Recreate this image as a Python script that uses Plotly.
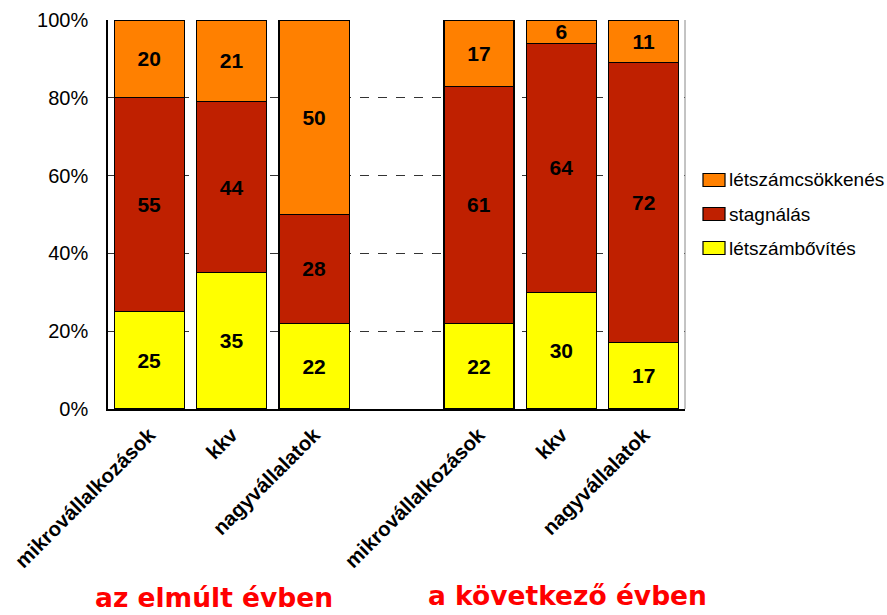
import plotly.graph_objects as go

# Company size groups, for the past year and for the next year
groups = ["mikrovállalkozások", "kkv", "nagyvállalatok"]
periods = ["az elmúlt évben", "a következő évben"]

# Share of firms (%) per group: past year, then next year
bovites = [25, 35, 22, 22, 30, 17]        # létszámbővítés
stagnalas = [55, 44, 28, 61, 64, 72]      # stagnálás
csokkenes = [20, 21, 50, 17, 6, 11]       # létszámcsökkenés

y_ticks = [0, 20, 40, 60, 80, 100]
y_tick_labels = ["0%", "20%", "40%", "60%", "80%", "100%"]

# Slot index for each bar: one empty slot separates the two periods
slots = [i if i < len(groups) else i + 1 for i in range(2 * len(groups))]
labels = groups * 2

SANS = "Liberation Sans, Arial, sans-serif"
WIDE = "DejaVu Sans, Verdana, sans-serif"

series = [
    ("létszámbővítés", bovites, "#FFFF00"),
    ("stagnálás", stagnalas, "#BF2000"),
    ("létszámcsökkenés", csokkenes, "#FF8000"),
]

fig = go.Figure()
for name, vals, color in series:
    fig.add_trace(go.Bar(
        x=slots, y=vals, name=name,
        marker=dict(color=color, line=dict(color="black", width=1.2)),
        width=0.85,
        text=[str(v) for v in vals],
        textposition="inside", insidetextanchor="middle", textangle=0,
        textfont=dict(family=SANS, size=21, color="black", weight="bold"),
        hoverinfo="skip",
        showlegend=False,
    ))

# Plot area in pixels, used to place the legend and captions
L, R, T, B = 108, 202, 20, 206
W, H = 887, 615
pw, ph = W - L - R, H - T - B

fig.update_layout(
    width=W, height=H,
    barmode="stack",
    plot_bgcolor="white", paper_bgcolor="white",
    margin=dict(l=L, r=R, t=T, b=B, autoexpand=False),
    font=dict(family=SANS, color="black"),
    uniformtext=dict(minsize=21, mode="show"),
)

fig.update_xaxes(
    range=[-0.5, 6.5],
    tickvals=slots, ticktext=labels,
    tickangle=-45,
    tickfont=dict(family=SANS, size=20.5, color="black", weight="bold"),
    showgrid=False, zeroline=False,
    showline=True, linecolor="black", linewidth=1.5,
    ticks="", ticklabelstandoff=4, automargin=False,
)

fig.update_yaxes(
    range=[0, 100],
    tickvals=y_ticks, ticktext=y_tick_labels,
    tickfont=dict(family=SANS, size=20, color="black"),
    showgrid=True, gridcolor="#333333", griddash="dash", gridwidth=1,
    zeroline=False,
    showline=True, linecolor="black", linewidth=1.5,
    ticks="", ticklabelstandoff=14, automargin=False,
)

# Right-hand frame edge of the plot area
fig.add_shape(type="line", xref="paper", yref="paper",
              x0=1, x1=1, y0=0, y1=1,
              line=dict(color="#888888", width=1))

# Legend: swatch + label per series, top entry is the top stack segment
def px_x(p):
    return (p - L) / pw

def px_y(p):
    return (H - B - p) / ph

row_centers = [180, 214, 248]
for (name, _, color), cy in zip(reversed(series), row_centers):
    fig.add_shape(type="rect", xref="paper", yref="paper",
                  x0=px_x(703), x1=px_x(725),
                  y0=px_y(cy + 6.5), y1=px_y(cy - 6.5),
                  fillcolor=color, line=dict(color="black", width=1.2))
    fig.add_annotation(x=px_x(727), y=px_y(cy), xref="paper", yref="paper",
                       text=name, showarrow=False,
                       xanchor="left", yanchor="middle",
                       font=dict(family=SANS, size=19, color="black"))

# Period captions under each group of bars
caption_x = [214, 567]
caption_y = [597, 595]
for text, cx, cy in zip(periods, caption_x, caption_y):
    fig.add_annotation(
        x=px_x(cx), y=px_y(cy), xref="paper", yref="paper",
        text=text, showarrow=False,
        font=dict(family=WIDE, size=26.5, color="#FF0000", weight="bold"),
        xanchor="center", yanchor="middle",
    )

fig.write_html("out.html")
